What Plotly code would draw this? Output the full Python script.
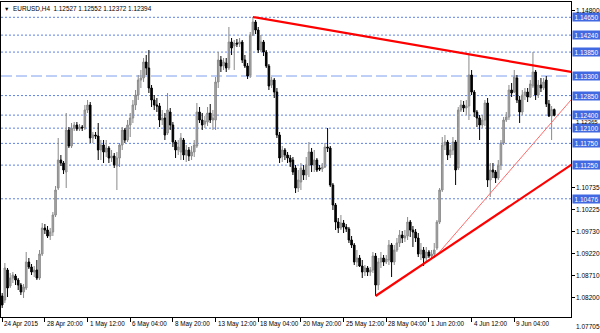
import plotly.graph_objects as go

# ---------------- data (EURUSD, H4) ----------------
bar_open = [
1.08240,1.08148,1.08838,1.08470,1.08654,1.08700,1.08608,1.08493,1.08332,1.08424,
1.09022,1.08907,1.08792,1.08838,1.08654,1.09206,1.09804,1.09758,1.09620,1.09712,
1.10103,1.10724,1.11368,1.11299,1.11092,1.12058,1.11690,1.12104,1.12173,1.12081,
1.12127,1.12104,1.12518,1.12633,1.11874,1.11943,1.11920,1.11598,1.11713,1.11552,
1.11644,1.11414,1.11460,1.11230,1.11414,1.11713,1.12058,1.11828,1.12173,1.12334,
1.12633,1.12863,1.13208,1.13254,1.13622,1.13484,1.13024,1.12748,1.12633,1.12610,
1.12288,1.12334,1.11989,1.12472,1.12173,1.11782,1.11598,1.11552,1.11828,1.11483,
1.11598,1.11460,1.11552,1.11690,1.12472,1.12288,1.12196,1.12242,1.12449,1.12288,
1.12288,1.13162,1.13668,1.13530,1.13599,1.13484,1.14082,1.13990,1.14059,1.14036,
1.14082,1.13668,1.13530,1.13323,1.14243,1.14542,1.14358,1.13898,1.14082,1.13852,
1.13530,1.13093,1.13208,1.12932,1.11943,1.11437,1.11598,1.11483,1.11414,1.11368,
1.11184,1.10724,1.10862,1.11138,1.11023,1.11253,1.11552,1.11253,1.11368,1.11184,
1.11161,1.11207,1.11667,1.11644,1.10793,1.10333,1.09942,1.09804,1.09919,1.09827,
1.09781,1.09528,1.09413,1.09022,1.09114,1.08930,1.08792,1.08884,1.08792,1.08838,
1.09160,1.08493,1.09022,1.09114,1.09022,1.09068,1.09413,1.09022,1.09298,1.09459,
1.09643,1.09574,1.09620,1.09942,1.09758,1.09712,1.09574,1.09206,1.09298,1.09114,
1.09252,1.09160,1.09206,1.09344,1.09942,1.10678,1.11713,1.11782,1.11483,1.11598,
1.11782,1.11184,1.12518,1.12633,1.12564,1.12610,1.13323,1.12932,1.12472,1.12334,
1.12173,1.12288,1.12679,1.10908,1.11138,1.11092,1.10954,1.11253,1.11759,1.12288,
1.12357,1.12978,1.12932,1.13254,1.12748,1.12472,1.12863,1.12932,1.12817,1.13070,
1.13392,1.12863,1.13093,1.13024,1.13208,1.12656,1.12380,1.12527]

bar_high = [
1.08309,1.08999,1.08884,1.08769,1.08792,1.08746,1.08654,1.08539,1.08516,1.09252,
1.09114,1.08976,1.08930,1.09068,1.09298,1.09919,1.09896,1.09850,1.09804,1.10172,
1.10770,1.11874,1.11483,1.11345,1.12449,1.12127,1.12219,1.12242,1.12242,1.12196,
1.12173,1.12633,1.12748,1.12702,1.12012,1.12012,1.12219,1.11828,1.11828,1.11828,
1.11690,1.11598,1.11529,1.11552,1.11759,1.12127,1.12104,1.12288,1.12449,1.12748,
1.12978,1.13323,1.13438,1.13714,1.13783,1.13898,1.13093,1.12863,1.12794,1.12679,
1.12518,1.12449,1.12909,1.12564,1.12242,1.11828,1.11828,1.11989,1.11874,1.11713,
1.11667,1.11690,1.11828,1.12679,1.12587,1.12449,1.12380,1.12587,1.12656,1.12518,
1.13277,1.13852,1.13760,1.13714,1.13714,1.14427,1.14174,1.14128,1.14151,1.14174,
1.14128,1.13783,1.13599,1.14312,1.14657,1.14588,1.14427,1.14243,1.14128,1.13898,
1.13576,1.13277,1.13254,1.13024,1.12012,1.11690,1.11644,1.11552,1.11483,1.11437,
1.11253,1.11138,1.11299,1.11253,1.11437,1.11782,1.11644,1.11598,1.11414,1.11253,
1.11299,1.11759,1.12104,1.11690,1.10839,1.10379,1.10034,1.10103,1.09988,1.09896,
1.09827,1.09620,1.09459,1.09298,1.09183,1.09068,1.08953,1.08930,1.08907,1.09252,
1.09229,1.09114,1.09252,1.09183,1.09183,1.09528,1.09459,1.09413,1.09574,1.09758,
1.09735,1.09758,1.10057,1.09988,1.09850,1.09781,1.09689,1.09459,1.09367,1.09367,
1.09298,1.09298,1.09459,1.09988,1.10724,1.11897,1.11943,1.11828,1.11713,1.11897,
1.11828,1.12587,1.12748,1.12725,1.12748,1.13783,1.13438,1.12978,1.12518,1.12403,
1.12403,1.12748,1.12794,1.11299,1.11299,1.11138,1.11368,1.11828,1.12357,1.12472,
1.13093,1.13139,1.13438,1.13323,1.12840,1.12978,1.13024,1.13024,1.13208,1.13852,
1.13438,1.13208,1.13254,1.13254,1.13300,1.12748,1.12610,1.12552]

bar_low = [
1.07964,1.08079,1.08217,1.08424,1.08539,1.08493,1.08378,1.08263,1.08194,1.08378,
1.08861,1.08723,1.08677,1.08608,1.08608,1.09160,1.09666,1.09574,1.09528,1.09620,
1.10057,1.10678,1.11230,1.11046,1.10724,1.11644,1.11644,1.12035,1.12035,1.12035,
1.12035,1.12058,1.12449,1.11759,1.11759,1.11851,1.11368,1.11368,1.11299,1.11437,
1.11299,1.11322,1.11184,1.10678,1.11207,1.11598,1.11759,1.11782,1.11897,1.12219,
1.12518,1.12748,1.13024,1.13162,1.13323,1.12909,1.12587,1.12518,1.12472,1.12127,
1.12173,1.11828,1.11943,1.12058,1.11667,1.11414,1.11483,1.11368,1.11368,1.11322,
1.11345,1.11368,1.11437,1.11644,1.12219,1.12058,1.12104,1.12150,1.12219,1.12058,
1.12058,1.13024,1.13392,1.13438,1.13392,1.13438,1.13783,1.13438,1.13967,1.13967,
1.13599,1.13484,1.13231,1.13254,1.14220,1.14266,1.13829,1.13852,1.13760,1.13484,
1.12978,1.13024,1.12794,1.11874,1.11299,1.11322,1.11368,1.11299,1.11207,1.11023,
1.10609,1.10632,1.10678,1.10908,1.10908,1.10977,1.11092,1.11092,1.11092,1.11115,
1.11092,1.11184,1.11552,1.10747,1.10218,1.09758,1.09689,1.09758,1.09689,1.09712,
1.09459,1.09344,1.08953,1.08907,1.08907,1.08654,1.08700,1.08700,1.08700,1.08769,
1.08240,1.08378,1.08884,1.08930,1.08976,1.08953,1.08677,1.08953,1.09252,1.09367,
1.09459,1.09482,1.09528,1.09597,1.09367,1.09482,1.09137,1.09068,1.08930,1.09022,
1.09114,1.09114,1.09114,1.09298,1.09896,1.10632,1.11598,1.11368,1.11414,1.11483,
1.10793,1.11138,1.12472,1.12472,1.12403,1.12288,1.12863,1.12357,1.12127,1.11828,
1.12104,1.12150,1.10747,1.10517,1.10954,1.10839,1.10908,1.11138,1.11713,1.12242,
1.12288,1.12817,1.12909,1.12679,1.12219,1.12403,1.12748,1.12702,1.12794,1.13024,
1.12748,1.12794,1.12932,1.12978,1.12587,1.12357,1.11828,1.12372]

bar_close = [
1.08033,1.08884,1.08424,1.08654,1.08723,1.08608,1.08493,1.08332,1.08447,1.09022,
1.08907,1.08792,1.08838,1.08654,1.09206,1.09804,1.09758,1.09620,1.09712,1.10103,
1.10678,1.11368,1.11299,1.11138,1.12058,1.11690,1.12104,1.12173,1.12081,1.12127,
1.12104,1.12518,1.12633,1.11874,1.11943,1.11920,1.11598,1.11713,1.11552,1.11644,
1.11414,1.11460,1.11253,1.11414,1.11713,1.12058,1.11828,1.12173,1.12334,1.12633,
1.12863,1.13208,1.13254,1.13622,1.13484,1.13024,1.12748,1.12633,1.12610,1.12288,
1.12334,1.11943,1.12518,1.12173,1.11782,1.11598,1.11667,1.11874,1.11483,1.11598,
1.11460,1.11552,1.11713,1.12472,1.12288,1.12173,1.12265,1.12449,1.12288,1.12334,
1.13162,1.13668,1.13530,1.13622,1.13484,1.14082,1.13944,1.14059,1.14036,1.14082,
1.13668,1.13530,1.13300,1.14243,1.14542,1.14358,1.13898,1.14082,1.13852,1.13530,
1.13070,1.13208,1.12932,1.11943,1.11414,1.11598,1.11483,1.11414,1.11322,1.11092,
1.10724,1.10908,1.11184,1.11023,1.11253,1.11552,1.11253,1.11368,1.11138,1.11161,
1.11207,1.11667,1.11644,1.10793,1.10333,1.09942,1.09804,1.09919,1.09827,1.09781,
1.09528,1.09413,1.09022,1.09114,1.08930,1.08792,1.08884,1.08792,1.08838,1.09160,
1.08493,1.09022,1.09114,1.09022,1.09091,1.09413,1.09022,1.09298,1.09459,1.09643,
1.09574,1.09620,1.09942,1.09758,1.09712,1.09574,1.09206,1.09298,1.09114,1.09252,
1.09160,1.09206,1.09298,1.09942,1.10678,1.11713,1.11782,1.11483,1.11598,1.11782,
1.11138,1.12518,1.12633,1.12564,1.12610,1.13323,1.12932,1.12472,1.12334,1.12173,
1.12288,1.12679,1.10908,1.11138,1.11092,1.10954,1.11253,1.11759,1.12288,1.12357,
1.12978,1.12909,1.13277,1.12748,1.12472,1.12863,1.12932,1.12817,1.13116,1.13392,
1.12863,1.13093,1.13024,1.13162,1.12656,1.12380,1.12527,1.12394]

bar_index = list(range(len(bar_open)))

# time axis labels (every 16 H4 bars)
tick_bars = [0, 16, 32, 48, 64, 80, 96, 112, 128, 144, 160, 176, 192]
tick_labels = ["24 Apr 2015", "28 Apr 20:00", "1 May 12:00", "6 May 04:00",
               "8 May 20:00", "13 May 12:00", "18 May 04:00", "20 May 20:00",
               "25 May 12:00", "28 May 04:00", "1 Jun 20:00", "4 Jun 12:00",
               "9 Jun 04:00"]

# horizontal support / resistance levels
dotted_levels = [1.14650, 1.14240, 1.13850, 1.12850, 1.12400, 1.12100,
                 1.11750, 1.11250, 1.10476]
dashed_levels = [1.13300]
boxed_labels = ["1.14650", "1.14240", "1.13850", "1.13300", "1.12850",
                "1.12400", "1.12100", "1.11750", "1.11250", "1.10476"]

# price scale labels
scale_values = [1.14800, 1.10735, 1.10225, 1.09730, 1.09220, 1.08710, 1.08200]
scale_labels = ["1.14800", "1.10735", "1.10225", "1.09730", "1.09220",
                "1.08710", "1.08200"]
bid_label = "1.12365"
bottom_label = "1.07705"

# trend lines (bar index, price)
res_bars = [94, 215]
res_prices = [1.14657, 1.13374]
sup_bars = [140, 215]
sup_prices = [1.08240, 1.11324]
thin_bars = [163, 215]
thin_prices = [1.09185, 1.12871]

# ---------------- figure ----------------
FONT = "Liberation Sans, Arial, sans-serif"
W, H = 600, 333
ML, MR, MT, MB = 1, 29, 2, 16
XR = [-0.45, 213.27]
YR = [1.07757, 1.15002]

fig = go.Figure()
fig.add_trace(go.Candlestick(
    x=bar_index, open=bar_open, high=bar_high, low=bar_low, close=bar_close,
    increasing=dict(line=dict(color="#8a8a8a", width=1), fillcolor="#ababab"),
    decreasing=dict(line=dict(color="#000000", width=1), fillcolor="#000000"),
    whiskerwidth=0, showlegend=False, hoverinfo="skip"))

fig.add_trace(go.Scatter(x=thin_bars, y=thin_prices, mode="lines",
                         line=dict(color="#ff6a6a", width=1),
                         showlegend=False, hoverinfo="skip"))
fig.add_trace(go.Scatter(x=res_bars, y=res_prices, mode="lines",
                         line=dict(color="#ff0000", width=2.2),
                         showlegend=False, hoverinfo="skip"))
fig.add_trace(go.Scatter(x=sup_bars, y=sup_prices, mode="lines",
                         line=dict(color="#ff0000", width=2.2),
                         showlegend=False, hoverinfo="skip"))

shapes = []
for lvl in dotted_levels:
    shapes.append(dict(type="line", xref="paper", x0=0, x1=1, yref="y",
                       y0=lvl, y1=lvl, layer="below",
                       line=dict(color="#5d80e6", width=1, dash="2px,2px")))
for lvl in dashed_levels:
    shapes.append(dict(type="line", xref="paper", x0=0, x1=1, yref="y",
                       y0=lvl, y1=lvl, layer="below",
                       line=dict(color="#7f9ff0", width=1, dash="11px,4px")))

LBL = 6.5
ann = []
# boxed level labels on price scale
for lbl in boxed_labels:
    ann.append(dict(xref="paper", x=1, xanchor="left", xshift=1,
                    yref="y", y=float(lbl), yanchor="middle",
                    text=lbl, showarrow=False, width=27, height=8,
                    align="center", bgcolor="#4169e1", borderpad=0,
                    font=dict(family=FONT, size=LBL, color="#ffffff")))
# plain scale labels
for v, lbl in zip(scale_values, scale_labels):
    ann.append(dict(xref="paper", x=1, xanchor="left", xshift=4,
                    yref="y", y=v, yanchor="middle", text=lbl,
                    showarrow=False, borderpad=0,
                    font=dict(family=FONT, size=LBL, color="#000000")))
ann.append(dict(xref="paper", x=1, xanchor="left", xshift=4,
                yref="y", y=float(bid_label), yanchor="middle", yshift=-5,
                text=bid_label, showarrow=False, borderpad=0,
                font=dict(family=FONT, size=6, color="#000000")))
ann.append(dict(xref="paper", x=1, xanchor="left", xshift=4,
                yref="paper", y=0, yanchor="middle", yshift=-9,
                text=bottom_label, showarrow=False, borderpad=0,
                font=dict(family=FONT, size=LBL, color="#000000")))
# time labels
for b, lbl in zip(tick_bars, tick_labels):
    ann.append(dict(xref="x", x=b, xanchor="left", xshift=1,
                    yref="paper", y=0, yanchor="top", yshift=-2,
                    text=lbl, showarrow=False, borderpad=0,
                    font=dict(family=FONT, size=6.3, color="#000000")))
# symbol header
header = "<span style='font-size:5.5px'>▼</span>  EURUSD,H4  %.5f %.5f %.5f %.5f" % (
    bar_open[-1], bar_high[-1], bar_low[-1], bar_close[-1])
ann.append(dict(xref="paper", x=0, xanchor="left", xshift=2,
                yref="paper", y=1, yanchor="middle", yshift=-6,
                text=header, showarrow=False, borderpad=0,
                font=dict(family=FONT, size=6.4, color="#000000")))

fig.update_layout(
    width=W, height=H, margin=dict(l=ML, r=MR, t=MT, b=MB, pad=0),
    paper_bgcolor="#ffffff", plot_bgcolor="#ffffff",
    shapes=shapes, annotations=ann, showlegend=False, boxgap=0.15,
    xaxis=dict(range=XR, showgrid=False, zeroline=False, rangeslider=dict(visible=False),
               showline=True, linecolor="#000000", linewidth=1, mirror=True,
               ticks="outside", ticklen=4, tickcolor="#000000",
               tickvals=tick_bars, showticklabels=False, fixedrange=True),
    yaxis=dict(range=YR, side="right", showgrid=False, zeroline=False,
               showline=True, linecolor="#000000", linewidth=1, mirror=True,
               ticks="outside", ticklen=3, tickcolor="#000000",
               tickvals=scale_values, showticklabels=False, fixedrange=True),
)

fig.write_html("out.html")
